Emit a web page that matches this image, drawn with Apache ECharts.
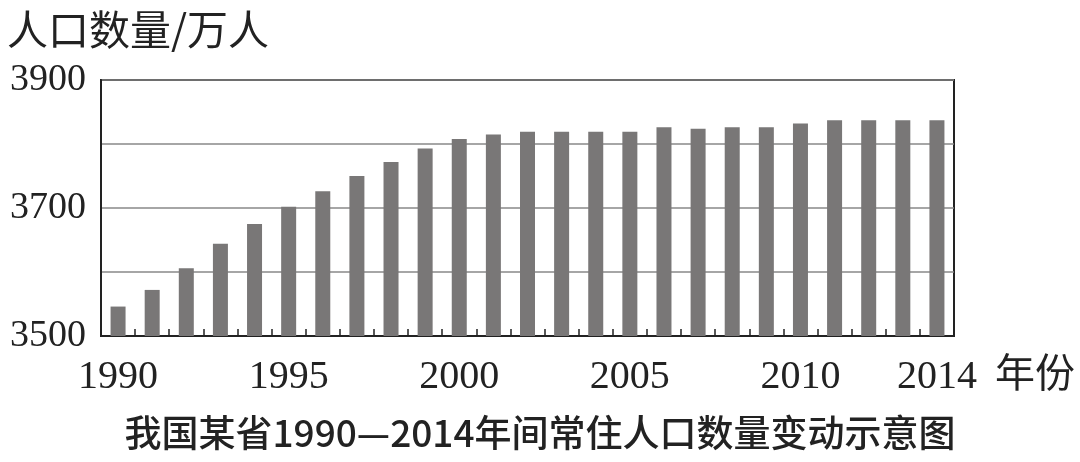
<!DOCTYPE html>
<html>
<head>
<meta charset="utf-8">
<script src="https://cdn.jsdelivr.net/npm/echarts@6/dist/echarts.min.js"></script>
<style>
html,body{margin:0;padding:0;background:#fff;}
#chart{width:1080px;height:462px;}
</style>
</head>
<body>
<div id="chart"></div>
<script>
const years = ['1990','1991','1992','1993','1994','1995','1996','1997','1998','1999','2000','2001','2002','2003','2004','2005','2006','2007','2008','2009','2010','2011','2012','2013','2014'];
const population = [3546, 3572, 3606, 3644, 3675, 3702, 3726, 3750, 3772, 3793, 3808, 3815, 3819, 3819, 3819, 3819, 3826, 3824, 3826, 3826, 3832, 3837, 3837, 3837, 3837];
const shownYearLabels = ['1990','1995','2000','2005','2010','2014'];
const shownValueLabels = [3500, 3700, 3900];
const yAxisTitle = '人口数量/万人';
const xAxisTitle = '年份';
const chartTitle = '我国某省1990—2014年间常住人口数量变动示意图';

const chart = echarts.init(document.getElementById('chart'));
chart.setOption({
  backgroundColor: '#fff',
  animation: false,
  title: [
    { text: yAxisTitle, left: 2, top: 4,
      textStyle: { fontFamily: 'Noto Sans CJK SC', fontWeight: 'normal', fontSize: 41, color: '#222' } },
    { text: chartTitle, left: 'center', top: 409,
      textStyle: { fontFamily: 'Noto Sans CJK SC', fontWeight: 500, fontSize: 37, color: '#222' } }
  ],
  grid: { left: 101, right: 126, top: 80, bottom: 126, show: true, borderColor: '#222', borderWidth: 2, containLabel: false },
  xAxis: {
    type: 'category',
    data: years,
    boundaryGap: true,
    name: xAxisTitle,
    nameLocation: 'end',
    nameGap: 41,
    nameTextStyle: { fontFamily: 'Noto Sans CJK SC', fontSize: 40, color: '#222', verticalAlign: 'top', padding: [16, 0, 0, 0] },
    axisLine: { show: true, lineStyle: { color: '#222', width: 2 } },
    axisTick: { show: true, inside: true, length: 7, interval: 0, alignWithLabel: false, lineStyle: { color: '#222', width: 1.5 } },
    axisLabel: {
      interval: function (i, v) { return shownYearLabels.indexOf(v) >= 0; },
      fontFamily: 'Liberation Serif', fontSize: 40, color: '#222', margin: 21
    },
    splitLine: { show: false }
  },
  yAxis: {
    type: 'value',
    min: 3500, max: 3900, interval: 100,
    axisLine: { show: true, lineStyle: { color: '#222', width: 2 } },
    axisTick: { show: false },
    axisLabel: {
      fontFamily: 'Liberation Serif', fontSize: 38, color: '#222', margin: 15,
      formatter: function (v) { return shownValueLabels.indexOf(v) >= 0 ? String(v) : ''; }
    },
    splitLine: { show: true, lineStyle: { color: '#888', width: 1.5 } }
  },
  series: [{
    type: 'bar',
    data: population,
    barWidth: 15,
    itemStyle: { color: '#797777' }
  }]
});
</script>
</body>
</html>
